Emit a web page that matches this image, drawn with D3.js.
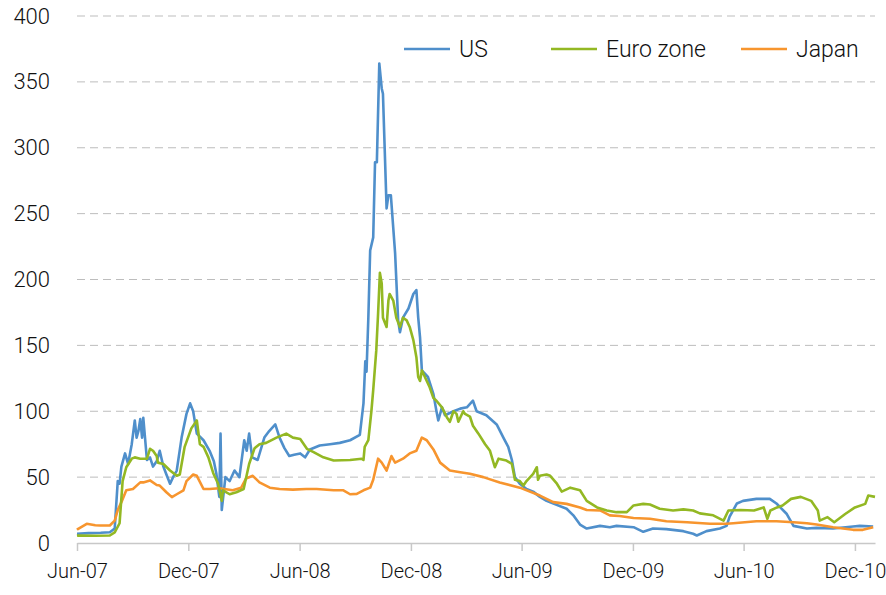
<!DOCTYPE html>
<html>
<head>
<meta charset="utf-8">
<script src="https://cdn.jsdelivr.net/npm/d3@7"></script>
<style>
  body { margin: 0; background: #fff; }
  text { font-family: Roboto, "Noto Sans", sans-serif; font-weight: 300; fill: #111; }
</style>
</head>
<body>
<div id="chart-area"></div>
<script>
// Spreads (bp) for US, Euro zone and Japan

var seriesNames = ["US", "Euro zone", "Japan"];
var seriesColors = ["#4f8fcb", "#93b823", "#f7952e"];

var usData = [
    ["2007-06-01", 7], ["2007-06-20", 7.5], ["2007-07-10", 7.8], ["2007-07-25", 8.2], ["2007-08-02", 11],
    ["2007-08-07", 47], ["2007-08-10", 45], ["2007-08-13", 58], ["2007-08-19", 68], ["2007-08-24", 60],
    ["2007-08-30", 75], ["2007-09-04", 93], ["2007-09-07", 80], ["2007-09-10", 85], ["2007-09-13", 94],
    ["2007-09-16", 80], ["2007-09-18", 95], ["2007-09-24", 63], ["2007-09-29", 65], ["2007-10-04", 58],
    ["2007-10-10", 62], ["2007-10-15", 70], ["2007-10-21", 58], ["2007-10-26", 52], ["2007-11-01", 45],
    ["2007-11-06", 50], ["2007-11-12", 55], ["2007-11-20", 80], ["2007-11-28", 98], ["2007-12-04", 106],
    ["2007-12-09", 100], ["2007-12-15", 83], ["2007-12-26", 78], ["2008-01-05", 70], ["2008-01-12", 62],
    ["2008-01-16", 53], ["2008-01-21", 35], ["2008-01-23", 83], ["2008-01-25", 25], ["2008-01-31", 50],
    ["2008-02-07", 47], ["2008-02-15", 55], ["2008-02-23", 50], ["2008-03-02", 78], ["2008-03-06", 70],
    ["2008-03-10", 83], ["2008-03-15", 65], ["2008-03-24", 63], ["2008-04-04", 80], ["2008-04-12", 85],
    ["2008-04-22", 90], ["2008-04-29", 80], ["2008-05-07", 72], ["2008-05-15", 66], ["2008-05-23", 67],
    ["2008-06-02", 68], ["2008-06-10", 65], ["2008-06-18", 71], ["2008-07-04", 74], ["2008-07-21", 75],
    ["2008-08-06", 76], ["2008-08-23", 78], ["2008-09-08", 82], ["2008-09-14", 106], ["2008-09-17", 138],
    ["2008-09-19", 130], ["2008-09-22", 171], ["2008-09-25", 222], ["2008-09-30", 232], ["2008-10-03", 289],
    ["2008-10-06", 289], ["2008-10-10", 364], ["2008-10-14", 345], ["2008-10-16", 341], ["2008-10-22", 254],
    ["2008-10-25", 264], ["2008-10-29", 264], ["2008-11-05", 220], ["2008-11-10", 169], ["2008-11-13", 160],
    ["2008-11-18", 171], ["2008-11-27", 178], ["2008-12-05", 189], ["2008-12-10", 192], ["2008-12-13", 171],
    ["2008-12-16", 156], ["2008-12-19", 131], ["2008-12-29", 126], ["2009-01-07", 113], ["2009-01-12", 100],
    ["2009-01-15", 93], ["2009-01-21", 103], ["2009-01-26", 97], ["2009-02-09", 100], ["2009-02-20", 102],
    ["2009-03-03", 103], ["2009-03-13", 108], ["2009-03-19", 100], ["2009-04-04", 97], ["2009-04-21", 90],
    ["2009-05-02", 80], ["2009-05-10", 73], ["2009-05-16", 63], ["2009-05-21", 50], ["2009-05-29", 45],
    ["2009-06-09", 41], ["2009-06-20", 39], ["2009-07-01", 35], ["2009-07-12", 32], ["2009-08-14", 26],
    ["2009-08-25", 21], ["2009-09-05", 14], ["2009-09-16", 11], ["2009-10-08", 13], ["2009-10-24", 12],
    ["2009-11-04", 13], ["2009-12-02", 12], ["2009-12-18", 8.5], ["2010-01-03", 11], ["2010-01-25", 10.5],
    ["2010-02-22", 9], ["2010-03-10", 7], ["2010-03-16", 5.7], ["2010-04-01", 9], ["2010-04-23", 11],
    ["2010-05-04", 13], ["2010-05-09", 20], ["2010-05-21", 30], ["2010-05-31", 32], ["2010-06-22", 33.5],
    ["2010-07-14", 33.5], ["2010-07-25", 30], ["2010-08-11", 22], ["2010-08-22", 13], ["2010-09-13", 11],
    ["2010-09-29", 11.5], ["2010-10-26", 11], ["2010-11-28", 12.5], ["2010-12-09", 13], ["2010-12-31", 12.5]
];

var euroData = [
    ["2007-06-01", 5.5], ["2007-06-03", 5.7], ["2007-07-01", 5.5], ["2007-07-25", 5.7], ["2007-08-02", 8],
    ["2007-08-10", 15], ["2007-08-15", 47], ["2007-08-21", 57.5], ["2007-08-30", 64], ["2007-09-04", 65],
    ["2007-09-13", 64], ["2007-09-24", 64], ["2007-09-29", 71.5], ["2007-10-04", 70], ["2007-10-10", 66],
    ["2007-10-12", 61], ["2007-10-21", 60], ["2007-11-01", 55], ["2007-11-12", 51], ["2007-11-17", 52],
    ["2007-11-25", 73], ["2007-12-06", 87], ["2007-12-15", 93], ["2007-12-20", 75], ["2007-12-26", 73],
    ["2008-01-03", 65], ["2008-01-11", 53], ["2008-01-19", 45], ["2008-01-25", 32], ["2008-01-27", 40],
    ["2008-02-07", 37], ["2008-02-18", 38.5], ["2008-03-01", 41], ["2008-03-10", 60], ["2008-03-19", 72],
    ["2008-03-27", 75], ["2008-04-07", 76], ["2008-04-24", 80], ["2008-05-10", 83], ["2008-05-21", 80],
    ["2008-06-02", 79], ["2008-06-13", 71.5], ["2008-06-24", 69], ["2008-07-10", 65], ["2008-07-27", 62.6],
    ["2008-08-23", 63], ["2008-09-11", 64], ["2008-09-14", 63], ["2008-09-16", 73], ["2008-09-22", 78],
    ["2008-09-27", 100], ["2008-09-30", 116], ["2008-10-05", 146], ["2008-10-08", 174], ["2008-10-11", 205],
    ["2008-10-14", 197], ["2008-10-16", 171], ["2008-10-22", 164], ["2008-10-25", 184], ["2008-10-27", 189],
    ["2008-11-02", 184], ["2008-11-07", 171], ["2008-11-13", 164], ["2008-11-18", 171], ["2008-11-24", 169],
    ["2008-11-29", 164], ["2008-12-05", 154], ["2008-12-10", 141], ["2008-12-13", 126], ["2008-12-16", 123],
    ["2008-12-19", 131], ["2008-12-24", 126], ["2009-01-01", 118], ["2009-01-07", 110], ["2009-01-12", 108],
    ["2009-01-21", 103], ["2009-01-29", 95.5], ["2009-02-03", 92], ["2009-02-09", 100], ["2009-02-14", 98],
    ["2009-02-17", 92], ["2009-02-25", 100], ["2009-02-28", 98], ["2009-03-08", 96], ["2009-03-13", 89],
    ["2009-03-22", 83], ["2009-04-02", 75], ["2009-04-10", 70], ["2009-04-18", 57.5], ["2009-04-24", 64],
    ["2009-05-07", 62.6], ["2009-05-16", 60], ["2009-05-21", 48], ["2009-05-29", 47], ["2009-06-04", 43.6],
    ["2009-06-09", 47], ["2009-06-20", 52.5], ["2009-06-26", 57.5], ["2009-06-28", 48], ["2009-07-01", 51],
    ["2009-07-12", 52], ["2009-07-18", 51], ["2009-07-29", 45], ["2009-08-06", 39], ["2009-08-20", 42],
    ["2009-09-05", 40], ["2009-09-16", 32], ["2009-10-03", 27], ["2009-10-19", 24.7], ["2009-11-04", 23.4],
    ["2009-11-21", 23.4], ["2009-12-02", 28.5], ["2009-12-18", 29.7], ["2009-12-29", 29.2], ["2010-01-14", 26],
    ["2010-02-05", 24.7], ["2010-02-22", 25.5], ["2010-03-10", 24.7], ["2010-03-21", 22.5], ["2010-04-12", 21],
    ["2010-04-29", 17], ["2010-05-07", 24.7], ["2010-05-27", 25], ["2010-06-18", 24.7], ["2010-07-04", 27],
    ["2010-07-10", 18.4], ["2010-07-15", 24.7], ["2010-07-26", 27], ["2010-08-04", 28.5], ["2010-08-18", 33.5],
    ["2010-09-03", 35], ["2010-09-20", 32], ["2010-10-01", 24.7], ["2010-10-04", 17], ["2010-10-17", 19.6],
    ["2010-10-28", 15.8], ["2010-11-15", 22], ["2010-12-01", 27], ["2010-12-18", 29.7], ["2010-12-23", 36],
    ["2011-01-03", 35]
];

var japanData = [
    ["2007-06-01", 10], ["2007-06-03", 10.8], ["2007-06-17", 14.6], ["2007-07-01", 13.5], ["2007-07-09", 13.3],
    ["2007-07-25", 13.3], ["2007-08-02", 17], ["2007-08-07", 25], ["2007-08-13", 31], ["2007-08-21", 40],
    ["2007-09-01", 41], ["2007-09-13", 46], ["2007-09-18", 46], ["2007-09-29", 47.5], ["2007-10-10", 44],
    ["2007-10-15", 43.6], ["2007-10-26", 38.5], ["2007-11-04", 34.8], ["2007-11-12", 37], ["2007-11-23", 40],
    ["2007-11-28", 47], ["2007-12-09", 52], ["2007-12-15", 51], ["2007-12-26", 41], ["2008-01-05", 41],
    ["2008-01-21", 41.5], ["2008-02-12", 40], ["2008-02-26", 42], ["2008-03-05", 49], ["2008-03-16", 51],
    ["2008-03-27", 46], ["2008-04-13", 42], ["2008-04-29", 41], ["2008-05-21", 40.5], ["2008-06-12", 41],
    ["2008-06-29", 41], ["2008-07-27", 40], ["2008-08-12", 40], ["2008-08-23", 37], ["2008-09-03", 37.3],
    ["2008-09-14", 40], ["2008-09-25", 42], ["2008-09-30", 48], ["2008-10-08", 64], ["2008-10-14", 61],
    ["2008-10-22", 55], ["2008-10-30", 66], ["2008-11-05", 61], ["2008-11-18", 64], ["2008-11-29", 68],
    ["2008-12-10", 70], ["2008-12-19", 80], ["2008-12-27", 78], ["2009-01-07", 71], ["2009-01-18", 61],
    ["2009-02-03", 55], ["2009-02-20", 53.7], ["2009-03-08", 52.5], ["2009-03-30", 50], ["2009-04-26", 46],
    ["2009-05-29", 42], ["2009-07-01", 36], ["2009-07-23", 31], ["2009-08-14", 29.7], ["2009-09-05", 27],
    ["2009-09-16", 25], ["2009-10-08", 24.7], ["2009-10-24", 21], ["2009-11-09", 20.5], ["2009-12-02", 19],
    ["2009-12-29", 18.4], ["2010-01-25", 16.5], ["2010-02-28", 15.8], ["2010-04-07", 14.6], ["2010-05-04", 14.6],
    ["2010-05-15", 15], ["2010-06-22", 16.5], ["2010-07-25", 16.5], ["2010-08-22", 15.8], ["2010-09-13", 15],
    ["2010-09-29", 14], ["2010-10-26", 12], ["2010-11-28", 10], ["2010-12-14", 10], ["2010-12-31", 12]
];

var yTicks = [0, 50, 100, 150, 200, 250, 300, 350, 400];
var xTicks = ["2007-06-01", "2007-12-01", "2008-06-01", "2008-12-01",
              "2009-06-01", "2009-12-01", "2010-06-01", "2010-12-01"];
var xDomain = ["2007-06-01", "2011-01-03"];


var width = 886, height = 595;
var margin = { left: 77, right: 11, top: 16, bottom: 52 };
var plotW = width - margin.left - margin.right;
var plotH = height - margin.top - margin.bottom;

var parseDate = d3.timeParse("%Y-%m-%d");

var x = d3.scaleTime()
    .domain(xDomain.map(parseDate))
    .range([0, plotW]);

var y = d3.scaleLinear()
    .domain([0, 400])
    .range([plotH, 0]);

var svg = d3.select("#chart-area")
    .append("svg")
        .attr("width", width)
        .attr("height", height)
    .append("g")
        .attr("transform", "translate(" + margin.left + ", " + margin.top + ")");

// Dashed gridlines
svg.append("g")
    .selectAll("line")
    .data(yTicks.filter(function(d){ return d > 0; }))
    .enter()
    .append("line")
        .attr("x1", 0)
        .attr("x2", plotW)
        .attr("y1", function(d){ return y(d); })
        .attr("y2", function(d){ return y(d); })
        .attr("stroke", "#bdbdbd")
        .attr("stroke-width", 1)
        .attr("stroke-dasharray", "8,5");

// Y axis (labels only)
var yAxisCall = d3.axisLeft(y).tickValues(yTicks).tickSize(0).tickPadding(27);
svg.append("g")
    .attr("class", "y-axis")
    .call(yAxisCall)
    .call(function(g){ g.attr("font-family", null); g.select(".domain").remove(); })
    .selectAll("text")
        .attr("font-size", "22px")
        .attr("fill", "#111");

// X axis
var xAxisCall = d3.axisBottom(x)
    .tickValues(xTicks.map(parseDate))
    .tickFormat(d3.timeFormat("%b-%y"))
    .tickSizeInner(8)
    .tickSizeOuter(0)
    .tickPadding(13);
svg.append("g")
    .attr("class", "x-axis")
    .attr("transform", "translate(0, " + plotH + ")")
    .call(xAxisCall)
    .call(function(g){
        g.attr("font-family", null);
        g.select(".domain").attr("stroke", "#c8c8c8").attr("stroke-width", 1.5);
        g.selectAll(".tick line").attr("stroke", "#c8c8c8").attr("stroke-width", 1.5);
    })
    .selectAll("text")
        .attr("font-size", "20px")
        .attr("fill", "#111");

// Lines
var line = d3.line()
    .x(function(d){ return x(parseDate(d[0])); })
    .y(function(d){ return y(d[1]); });

var allSeries = [usData, euroData, japanData];
var drawOrder = [0, 2, 1];
drawOrder.forEach(function(i){
    svg.append("path")
        .datum(allSeries[i])
        .attr("fill", "none")
        .attr("stroke", seriesColors[i])
        .attr("stroke-width", 2.6)
        .attr("stroke-linejoin", "round")
        .attr("d", line);
});

// Legend
var legendX = [327, 474, 664];
var legend = svg.append("g")
    .attr("transform", "translate(0, " + 33 + ")");
seriesNames.forEach(function(name, i){
    legend.append("line")
        .attr("x1", legendX[i])
        .attr("x2", legendX[i] + 46)
        .attr("y1", 0)
        .attr("y2", 0)
        .attr("stroke", seriesColors[i])
        .attr("stroke-width", 2.6);
    legend.append("text")
        .attr("x", legendX[i] + 55)
        .attr("y", 8)
        .attr("font-size", "23px")
        .text(name);
});
</script>
</body>
</html>
